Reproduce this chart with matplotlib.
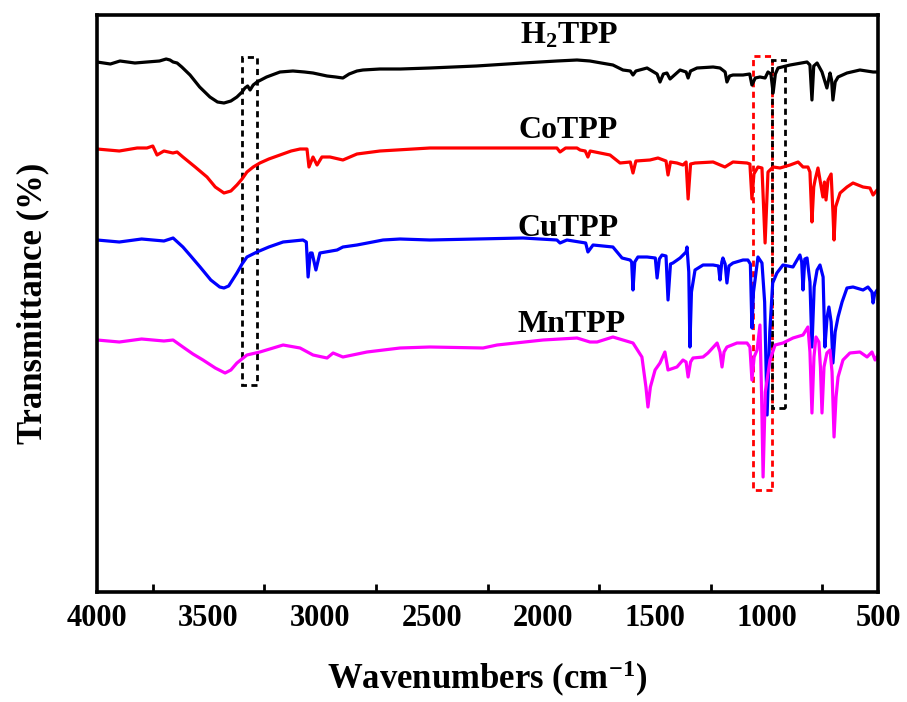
import matplotlib
matplotlib.use("Agg")
import matplotlib.pyplot as plt
from matplotlib.patches import Rectangle
from matplotlib.ticker import MultipleLocator, NullLocator

plt.rcParams['font.family'] = ['Liberation Serif', 'DejaVu Serif']
plt.rcParams['font.weight'] = 'bold'
plt.rcParams['mathtext.fontset'] = 'custom'
plt.rcParams['mathtext.rm'] = 'Liberation Serif:bold'
plt.rcParams['mathtext.bf'] = 'Liberation Serif:bold'
plt.rcParams['mathtext.it'] = 'Liberation Serif:bold'
plt.rcParams['mathtext.default'] = 'bf'

# ── FTIR spectra (wavenumber in cm-1, stacked transmittance in a.u.) ─────────
h2tpp_wn = [4000, 3940, 3897, 3830, 3776, 3720, 3690, 3673, 3659, 3641, 3620,
            3583, 3540, 3494, 3460, 3431, 3400, 3373, 3350, 3337, 3325, 3314,
            3300, 3283, 3240, 3180, 3122, 3070, 3032, 2969, 2930, 2898, 2870,
            2835, 2808, 2732, 2640, 2508, 2300, 2091, 1939, 1849, 1791, 1740,
            1688, 1643, 1610, 1598, 1585, 1535, 1490, 1477, 1462, 1446, 1432,
            1387, 1360, 1351, 1340, 1311, 1239, 1208, 1185, 1177, 1165, 1150,
            1105, 1075, 1065, 1050, 1029, 1006, 993, 980, 970, 960, 948, 894,
            818, 805, 796, 788, 773, 751, 729, 715, 708, 702, 692, 679, 639,
            581, 522, 500]
h2tpp_t = [530, 528, 531, 529, 530, 531, 533, 532, 530, 529, 525,
           517, 505, 495, 490, 489, 491, 495, 500, 504, 506, 502,
           507, 510, 515, 520, 521, 520, 519, 516, 515, 514, 518,
           521, 522, 523, 523, 524, 526, 529, 531, 532, 531, 529,
           527, 522, 521, 517, 521, 524, 518, 510, 518, 519, 513,
           522, 520, 514, 521, 524, 525, 524, 520, 510, 516, 517,
           517, 518, 507, 514, 515, 514, 520, 518, 499, 518, 524, 527,
           530, 527, 492, 526, 529, 520, 504, 519, 512, 492, 510, 515,
           519, 522, 520, 520]

cotpp_wn = [4000, 3900, 3820, 3776, 3750, 3731, 3700, 3660, 3641, 3615, 3560,
            3507, 3470, 3431, 3400, 3373, 3350, 3328, 3300, 3270, 3230, 3180,
            3130, 3090, 3059, 3050, 3032, 3014, 2992, 2956, 2898, 2835, 2732,
            2508, 2200, 1939, 1925, 1900, 1849, 1835, 1812, 1800, 1790, 1701,
            1656, 1610, 1598, 1585, 1522, 1486, 1450, 1441, 1430, 1401, 1374,
            1360, 1351, 1340, 1320, 1239, 1186, 1150, 1087, 1074, 1065, 1056,
            1051, 1038, 1020, 1006, 993, 970, 939, 894, 858, 836, 814, 805, 796,
            788, 782, 769, 747, 740, 733, 724, 710, 702, 697, 690, 670, 639,
            612, 567, 536, 522, 504, 500]
cotpp_t = [443, 441, 444, 444, 446, 437, 441, 439, 440, 435, 425,
           415, 405, 399, 401, 407, 413, 420, 425, 429, 433, 437,
           441, 443, 443, 425, 435, 427, 435, 435, 432, 438, 441,
           444, 444, 444, 440, 444, 444, 442, 441, 435, 441, 437,
           429, 430, 419, 431, 432, 434, 431, 417, 430, 429, 427,
           430, 393, 428, 429, 430, 425, 430, 429, 428, 393, 418,
           420, 425, 424, 349, 420, 425, 424, 427, 430, 425, 425, 420, 370,
           405, 412, 424, 395, 410, 392, 412, 418, 380, 352, 385, 399, 405,
           409, 405, 404, 397, 402, 402]

cutpp_wn = [4000, 3900, 3800, 3700, 3659, 3615, 3580, 3538, 3490, 3450, 3431,
            3410, 3373, 3350, 3328, 3283, 3230, 3166, 3077, 3062, 3054, 3044,
            3036, 3019, 3001, 2924, 2898, 2835, 2718, 2642, 2508, 2091, 1939,
            1925, 1894, 1810, 1800, 1777, 1688, 1647, 1611, 1604, 1598, 1590,
            1576, 1535, 1498, 1490, 1480, 1468, 1450, 1441, 1430, 1419, 1387,
            1360, 1356, 1348, 1343, 1336, 1320, 1284, 1239, 1215, 1208, 1200,
            1195, 1185, 1177, 1168, 1150, 1105, 1083, 1072, 1065, 1058, 1051,
            1038, 1020, 1008, 997, 985, 972, 953, 926, 881, 850, 842, 836, 828,
            818, 805, 796, 786, 773, 760, 746, 738, 728, 720, 710, 702, 692,
            679, 661, 639, 612, 567, 545, 527, 522, 515, 504, 500]
cutpp_t = [352, 350, 353, 351, 354, 345, 336, 325, 312, 305, 304,
           306, 319, 328, 335, 340, 345, 350, 352, 350, 315, 339,
           339, 322, 339, 342, 345, 347, 352, 353, 352, 354, 352,
           349, 352, 349, 340, 347, 345, 334, 332, 330, 302, 330,
           335, 335, 334, 314, 333, 337, 336, 292, 328, 329, 334,
           340, 345, 320, 245, 300, 322, 327, 327, 326, 312, 330,
           334, 328, 309, 326, 329, 332, 332, 328, 264, 300, 312,
           335, 329, 290, 177, 260, 309, 319, 327, 325, 337, 330, 302, 333,
           334, 310, 245, 305, 322, 327, 315, 245, 275, 285, 270, 229, 260,
           275, 290, 304, 305, 302, 305, 300, 289, 298, 302, 302]

mntpp_wn = [4000, 3900, 3800, 3700, 3659, 3615, 3570, 3525, 3470, 3426, 3400,
            3373, 3328, 3270, 3166, 3090, 3032, 2969, 2942, 2898, 2790, 2642,
            2508, 2270, 2207, 2001, 1849, 1791, 1759, 1688, 1598, 1558, 1540,
            1531, 1520, 1499, 1477, 1455, 1441, 1401, 1374, 1360, 1351, 1340,
            1329, 1284, 1262, 1221, 1208, 1199, 1190, 1177, 1132, 1087, 1074,
            1065, 1055, 1042, 1029, 1022, 1015, 1005, 984, 961, 926, 881, 836,
            814, 805, 796, 787, 778, 765, 758, 751, 742, 729, 715, 706, 697,
            688, 679, 657, 626, 581, 549, 527, 513, 500]
mntpp_t = [252, 250, 253, 251, 252, 245, 238, 232, 224, 219, 222,
           229, 237, 240, 247, 244, 237, 234, 239, 235, 240, 244,
           245, 244, 247, 252, 254, 250, 250, 255, 249, 235, 205,
           185, 205, 222, 229, 240, 222, 225, 232, 230, 215, 230,
           234, 235, 239, 249, 240, 225, 240, 245, 249, 249, 245,
           212, 235, 242, 267, 200, 115, 200, 232, 247, 249, 254, 257,
           265, 240, 179, 235, 255, 250, 225, 179, 225, 239, 242, 220, 155,
           195, 215, 232, 239, 240, 235, 240, 232, 237]

series = [
    (h2tpp_wn, h2tpp_t, 'black'),
    (cotpp_wn, cotpp_t, '#ff0000'),
    (cutpp_wn, cutpp_t, '#0000ff'),
    (mntpp_wn, mntpp_t, '#ff00ff'),
]

# curve names and where they sit (wavenumber, height)
names = [r'H$_{2}$TPP', 'CoTPP', 'CuTPP', 'MnTPP']
name_wn = [1885, 1890, 1890, 1875]
name_t = [556, 462, 364, 268]

# marked bands: (high wn, low wn, bottom, top, colour)
boxes = [
    (3350, 3283, 207, 535, 'black'),
    (1058, 973, 102, 536, '#ff0000'),
    (977, 917, 184, 532, 'black'),
]

# ── Plot ──────────────────────────────────────────────────────────────────────
fig = plt.figure(figsize=(9.07, 7.02), dpi=100)
ax = fig.add_axes([97 / 907, 110 / 702, 781 / 907, 577 / 702])

for wn, t, c in series:
    ax.plot(wn, t, color=c, lw=2.3, solid_joinstyle='round')

for name, x, y in zip(names, name_wn, name_t):
    ax.text(x, y, name, fontsize=23, fontweight='bold', ha='center',
            va='center')

for hi, lo, b, top, c in boxes:
    ax.add_patch(Rectangle((lo, b), hi - lo, top - b, fill=False,
                           edgecolor=c, lw=2, linestyle=(0, (2.2, 1.6))))

ax.set_xlim(4000, 500)
ax.set_ylim(0, 577)

ax.xaxis.set_major_locator(MultipleLocator(500))
ax.xaxis.set_minor_locator(MultipleLocator(500, offset=250))
ax.yaxis.set_major_locator(NullLocator())
ax.tick_params(axis='x', which='major', length=0, pad=9, labelsize=22)
ax.tick_params(axis='x', which='minor', direction='in', length=6, width=2)
for lbl in ax.get_xticklabels():
    lbl.set_fontweight('bold')

for sp in ax.spines.values():
    sp.set_linewidth(2.6)

ax.set_xlabel('Wavenumbers (cm$^{-1}$)', fontsize=25, fontweight='bold',
              labelpad=18)
ax.set_ylabel('Transmittance (%)', fontsize=25, fontweight='bold',
              labelpad=34)

fig.savefig('out.png', dpi=100)
